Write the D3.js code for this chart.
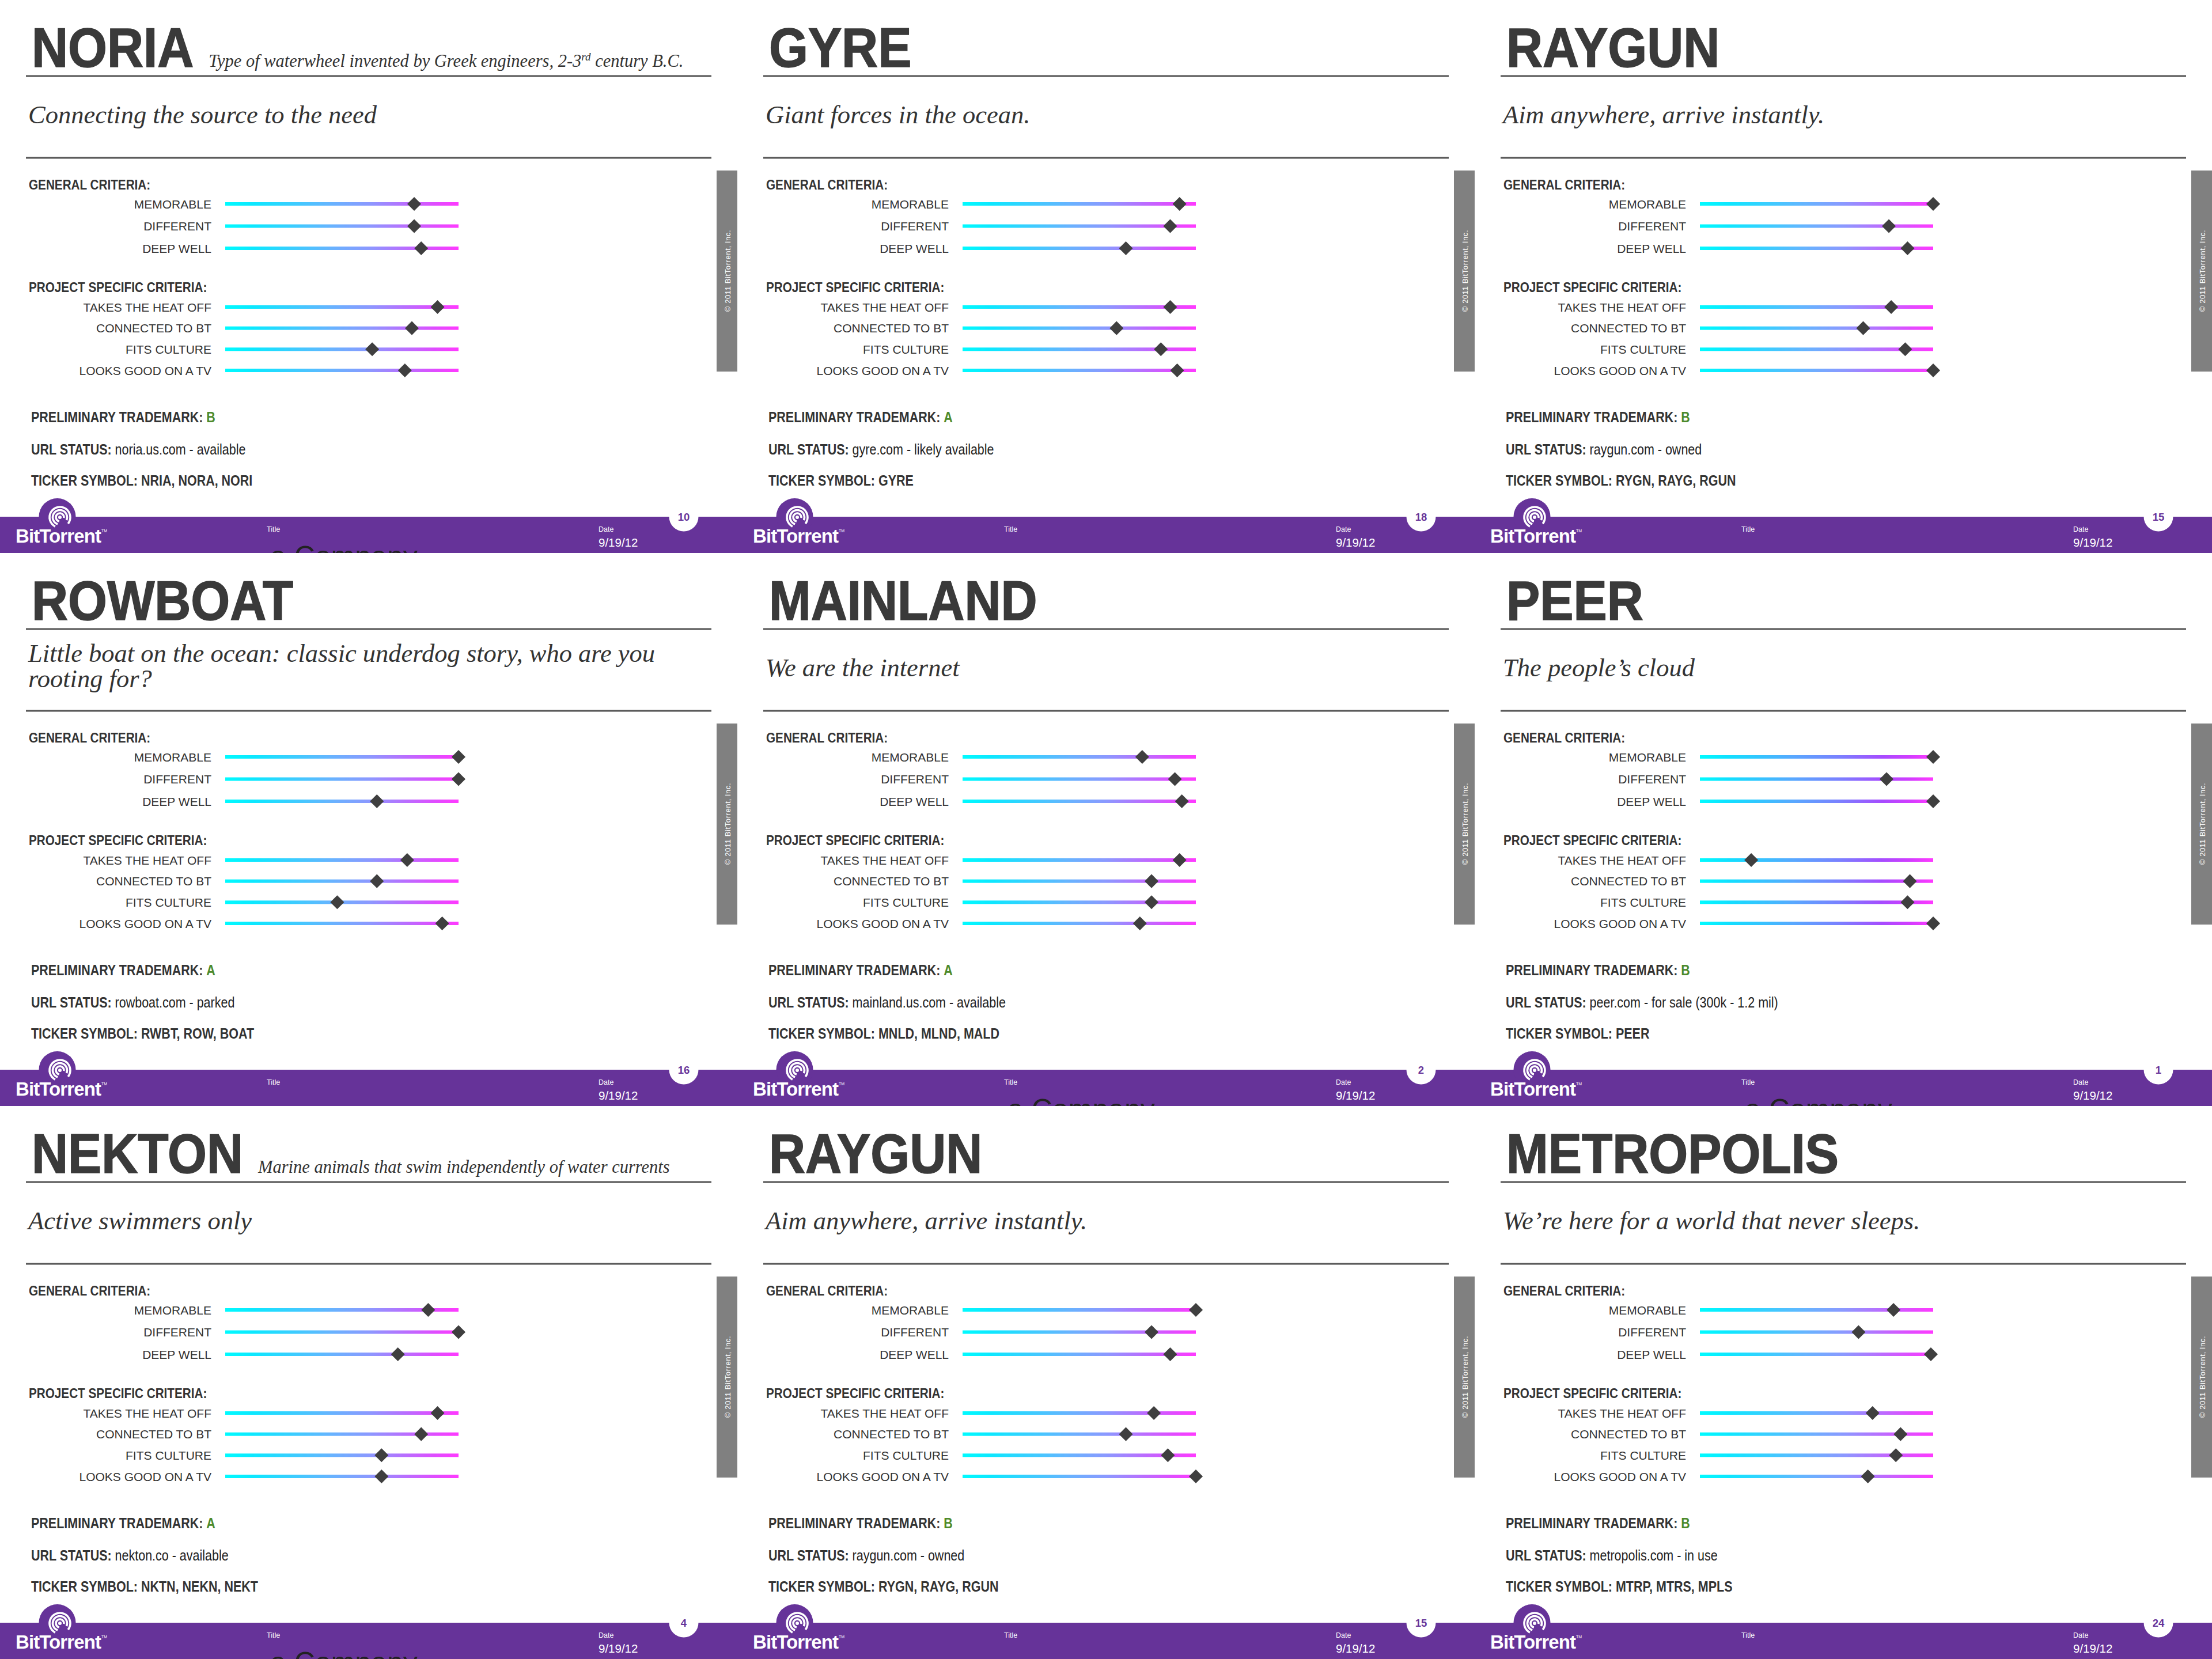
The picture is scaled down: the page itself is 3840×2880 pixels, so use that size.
<!DOCTYPE html>
<html>
<head>
<meta charset="utf-8">
<script src="https://cdn.jsdelivr.net/npm/d3@7"></script>
<style>
  html, body { margin: 0; padding: 0; background: #fff; }
  svg { display: block; }
</style>
</head>
<body>
<div id="chart"></div>
<script>
// one card per candidate name, read left to right, top to bottom
var names = ["NORIA", "GYRE", "RAYGUN", "ROWBOAT", "MAINLAND", "PEER", "NEKTON", "RAYGUN", "METROPOLIS"];
var subtitles = ["Type of waterwheel invented by Greek engineers, 2-3|rd| century B.C.", "", "", "", "", "",
  "Marine animals that swim independently of water currents", "", ""];
var taglines = [
  ["Connecting the source to the need"],
  ["Giant forces in the ocean."],
  ["Aim anywhere, arrive instantly."],
  ["Little boat on the ocean: classic underdog story, who are you", "rooting for?"],
  ["We are the internet"],
  ["The people\u2019s cloud"],
  ["Active swimmers only"],
  ["Aim anywhere, arrive instantly."],
  ["We\u2019re here for a world that never sleeps."]
];

var general = ["MEMORABLE", "DIFFERENT", "DEEP WELL"];
var project = ["TAKES THE HEAT OFF", "CONNECTED TO BT", "FITS CULTURE", "LOOKS GOOD ON A TV"];

// scores on a 0-100 slider
var generalScores = [
  [81, 81, 84],
  [93, 89, 70],
  [100, 81, 89],
  [100, 100, 65],
  [77, 91, 94],
  [100, 80, 100],
  [87, 100, 74],
  [100, 81, 89],
  [83, 68, 99]
];
var projectScores = [
  [91, 80, 63, 77],
  [89, 66, 85, 92],
  [82, 70, 88, 100],
  [78, 65, 48, 93],
  [93, 81, 81, 76],
  [22, 90, 89, 100],
  [91, 84, 67, 67],
  [82, 70, 88, 100],
  [74, 86, 84, 72]
];

var trademarks = ["B", "A", "B", "A", "A", "B", "A", "B", "B"];
var urls = ["noria.us.com - available", "gyre.com - likely available", "raygun.com - owned",
  "rowboat.com - parked", "mainland.us.com - available", "peer.com - for sale (300k - 1.2 mil)",
  "nekton.co - available", "raygun.com - owned", "metropolis.com - in use"];
var tickers = ["NRIA, NORA, NORI", "GYRE", "RYGN, RAYG, RGUN", "RWBT, ROW, BOAT", "MNLD, MLND, MALD",
  "PEER", "NKTN, NEKN, NEKT", "RYGN, RAYG, RGUN", "MTRP, MTRS, MPLS"];
var pages = ["10", "18", "15", "16", "2", "1", "4", "15", "24"];
var hasCompany = [true, false, false, false, true, true, true, false, false];

var W = 1280, H = 960;
var sans = "'Liberation Sans', Arial, Helvetica, sans-serif";
var serif = "'Liberation Serif', 'Times New Roman', serif";
var purple = "#663399";

var svg = d3.select("#chart").append("svg")
  .attr("width", W * 3)
  .attr("height", H * 3);

var defs = svg.append("defs");
defs.append("clipPath").attr("id", "card")
  .append("rect").attr("width", W).attr("height", H);

var x = d3.scaleLinear().domain([0, 100]).range([391, 796]);
var yGen = d3.scalePoint().domain(general).range([354, 431]);
var yPro = d3.scalePoint().domain(project).range([533, 643]);

// slider colours
function addGradient(id, stops) {
  var lg = defs.append("linearGradient").attr("id", id)
    .attr("gradientUnits", "userSpaceOnUse")
    .attr("x1", x.range()[0]).attr("x2", x.range()[1])
    .attr("y1", 0).attr("y2", 0);
  lg.selectAll("stop").data(stops).enter().append("stop")
    .attr("offset", function(d) { return d[0]; })
    .attr("stop-color", function(d) { return d[1]; });
}
addGradient("track", [[0, "#00fbff"], [0.12, "#0ce8ff"], [0.45, "#66b4ff"], [0.62, "#8c98ff"], [0.78, "#bb6cff"], [0.9, "#e04cff"], [1, "#ff3aff"]]);
addGradient("trackPeer", [[0, "#00fbff"], [0.12, "#10e0ff"], [0.4, "#58a8ff"], [0.6, "#7a80ff"], [0.78, "#a64cff"], [0.9, "#d23cff"], [1, "#ff3aff"]]);

var diamond = d3.symbol().type(d3.symbolSquare).size(290);

names.forEach(function(name, i) {
  var col = i % 3, row = Math.floor(i / 3);
  var g = svg.append("g")
    .attr("transform", "translate(" + col * W + "," + row * H + ")")
    .attr("clip-path", "url(#card)");

  g.append("rect").attr("width", W).attr("height", H).attr("fill", "#fff");

  //title
  var t = g.append("text")
    .attr("transform", "translate(55,116) scale(0.9,1)")
    .attr("font-family", sans)
    .attr("font-weight", "bold")
    .attr("font-size", 97)
    .attr("fill", "#3a3a3a")
    .attr("stroke", "#3a3a3a")
    .attr("stroke-width", 1.6)
    .text(name);
  var tw = t.node().getComputedTextLength() * 0.9;

  if (subtitles[i]) {
    var parts = subtitles[i].split("|");
    var st = g.append("text")
      .attr("x", 55 + tw + 26)
      .attr("y", 116)
      .attr("font-family", serif)
      .attr("font-style", "italic")
      .attr("font-size", 30.5)
      .attr("fill", "#333");
    st.append("tspan").text(parts[0]);
    if (parts.length > 1) {
      st.append("tspan").attr("dy", -11).attr("font-size", 19).text(parts[1]);
      st.append("tspan").attr("dy", 11).text(parts[2]);
    }
  }

  g.append("line").attr("x1", 45).attr("x2", 1235).attr("y1", 132).attr("y2", 132)
    .attr("stroke", "#555").attr("stroke-width", 3);

  var lines = taglines[i];
  var y0 = lines.length > 1 ? 189 : 214;
  lines.forEach(function(l, k) {
    g.append("text")
      .attr("x", 49)
      .attr("y", y0 + k * 44)
      .attr("font-family", serif)
      .attr("font-style", "italic")
      .attr("font-size", 44.5)
      .attr("fill", "#333")
      .text(l);
  });

  g.append("line").attr("x1", 45).attr("x2", 1235).attr("y1", 274).attr("y2", 274)
    .attr("stroke", "#555").attr("stroke-width", 3);

  // copyright tab
  g.append("rect").attr("x", 1244).attr("y", 296).attr("width", 40).attr("height", 349)
    .attr("fill", "#808080");
  g.append("text")
    .attr("transform", "translate(1268,470) rotate(-90)")
    .attr("text-anchor", "middle")
    .attr("font-family", sans)
    .attr("font-size", 13)
    .attr("letter-spacing", 0.6)
    .attr("fill", "#fff")
    .text("\u00a9 2011 BitTorrent, Inc.");

  // criteria headers
  [["GENERAL CRITERIA:", 329], ["PROJECT SPECIFIC CRITERIA:", 507]].forEach(function(h) {
    g.append("text")
      .attr("transform", "translate(50," + h[1] + ") scale(0.9,1)")
      .attr("font-family", sans)
      .attr("font-weight", "bold")
      .attr("font-size", 23)
      .attr("fill", "#333")
      .text(h[0]);
  });

  var fill = name == "PEER" ? "url(#trackPeer)" : "url(#track)";

  function drawGroup(labels, scores, y) {
    var rows = labels.map(function(l, k) { return {label: l, value: scores[k]}; });
    var grp = g.append("g");
    grp.selectAll(".label")
        .data(rows)
      .enter().append("text")
        .attr("class", "label")
        .attr("x", 367)
        .attr("y", function(d) { return y(d.label) + 7.5; })
        .attr("text-anchor", "end")
        .attr("font-family", sans)
        .attr("font-size", 21)
        .attr("fill", "#333")
        .text(function(d) { return d.label; });
    grp.selectAll(".track")
        .data(rows)
      .enter().append("rect")
        .attr("class", "track")
        .attr("x", x(0))
        .attr("width", x(100) - x(0))
        .attr("y", function(d) { return y(d.label) - 3; })
        .attr("height", 6)
        .attr("fill", fill);
    grp.selectAll(".mark")
        .data(rows)
      .enter().append("path")
        .attr("class", "mark")
        .attr("d", diamond)
        .attr("transform", function(d) { return "translate(" + x(d.value) + "," + y(d.label) + ") rotate(45)"; })
        .attr("fill", "#3f3f3f");
  }
  drawGroup(general, generalScores[i], yGen);
  drawGroup(project, projectScores[i], yPro);

  // name details
  function info(yy, label, value, valueColor, valueWeight) {
    var tx = g.append("text")
      .attr("transform", "translate(54," + yy + ") scale(0.86,1)")
      .attr("font-family", sans)
      .attr("font-size", 25)
      .attr("fill", "#333");
    tx.append("tspan").attr("font-weight", "bold").text(label);
    tx.append("tspan").attr("font-weight", valueWeight).attr("fill", valueColor).text(value);
  }
  info(733, "PRELIMINARY TRADEMARK: ", trademarks[i], "#4d8a2b", "bold");
  info(789, "URL STATUS: ", urls[i], "#222", "normal");
  info(843, "TICKER SYMBOL: ", tickers[i], "#333", "bold");

  // footer
  g.append("rect").attr("x", 0).attr("y", 897).attr("width", W).attr("height", H - 897)
    .attr("fill", purple);
  g.append("circle").attr("cx", 99.5).attr("cy", 897).attr("r", 32).attr("fill", purple);
  var logo = g.append("g").attr("transform", "translate(104,898)");
  [7, 12.5, 18].forEach(function(r, k) {
    logo.append("path")
      .attr("d", d3.arc().innerRadius(r - 1.8).outerRadius(r + 1.8)
        .startAngle(-Math.PI * (0.95 - k * 0.05)).endAngle(Math.PI * (0.55 + k * 0.08))())
      .attr("fill", "#fff");
  });
  logo.append("circle").attr("r", 3).attr("fill", "#fff");

  g.append("text")
    .attr("x", 27).attr("y", 942)
    .attr("font-family", sans).attr("font-weight", "bold")
    .attr("font-size", 33).attr("letter-spacing", -0.9)
    .attr("fill", "#fff").text("BitTorrent");
  g.append("text")
    .attr("x", 176).attr("y", 924)
    .attr("font-family", sans).attr("font-size", 7)
    .attr("fill", "#fff").text("TM");

  g.append("text").attr("x", 463).attr("y", 923)
    .attr("font-family", sans).attr("font-size", 12.5).attr("fill", "#fff").text("Title");
  g.append("text").attr("x", 1039).attr("y", 923)
    .attr("font-family", sans).attr("font-size", 12.5).attr("fill", "#fff").text("Date");
  g.append("text").attr("x", 1039).attr("y", 949)
    .attr("font-family", sans).attr("font-size", 20.5).attr("fill", "#fff").text("9/19/12");

  if (hasCompany[i]) {
    g.append("text").attr("x", 469).attr("y", 983)
      .attr("font-family", sans).attr("font-size", 50).attr("fill", "#222").text("a Company");
  }

  g.append("circle").attr("cx", 1187).attr("cy", 897).attr("r", 25.5).attr("fill", "#fff");
  g.append("text")
    .attr("x", 1187).attr("y", 904)
    .attr("text-anchor", "middle")
    .attr("font-family", sans).attr("font-weight", "bold")
    .attr("font-size", 18.5).attr("fill", purple)
    .text(pages[i]);
});
</script>
</body>
</html>
